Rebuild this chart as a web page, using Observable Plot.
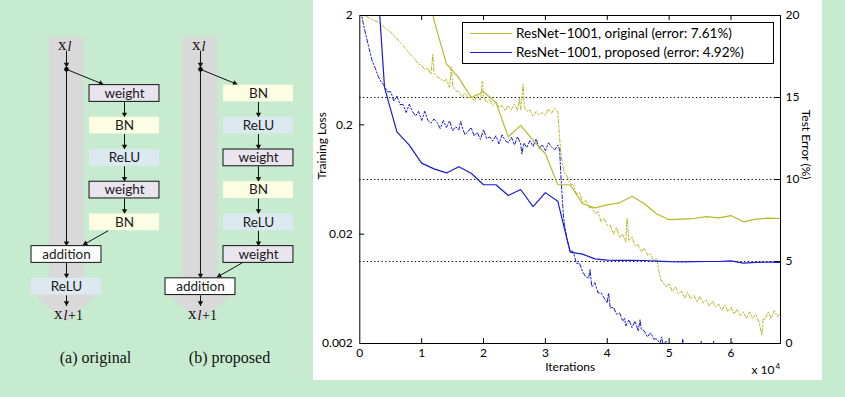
<!DOCTYPE html>
<html><head><meta charset="utf-8">
<script src="https://cdn.jsdelivr.net/npm/d3@7"></script>
<script src="https://cdn.jsdelivr.net/npm/@observablehq/plot@0.6"></script>
<style>
html,body{margin:0;padding:0;}
body{width:845px;height:397px;background:#c7ebcf;position:relative;overflow:hidden;}
#diagram{position:absolute;left:0;top:0;}
#chart{position:absolute;left:313px;top:0;}
#legend{position:absolute;left:462px;top:22px;width:312px;height:42px;box-sizing:border-box;border:1px solid #000;background:#fff;font-family:Lato,sans-serif;font-size:13.5px;color:#000;}
.row{position:absolute;left:0;height:16px;display:flex;align-items:center;white-space:nowrap;}
.sw{width:42px;margin-left:7px;margin-right:4px;height:0;border-top:1.3px solid;}
</style></head><body>
<div id="diagram"></div><div id="chart"></div><div id="legend"></div>
<script>
// ---------- diagram data ----------
const branchA = ["weight","BN","ReLU","weight","BN"];
const mainA = ["addition","ReLU"];
const branchB = ["BN","ReLU","weight","BN","ReLU","weight"];
const mainB = ["addition"];
const captions = ["(a) original","(b) proposed"];
const boxColors = {weight:"#e9e4ee", BN:"#fdfde3", ReLU:"#dce9f0", addition:"#ffffff"};
const boxed = ["weight","addition"];

// ---------- chart data ----------
const iterTicks = [0,1,2,3,4,5,6];
const lossTicks = [0.002,0.02,0.2,2];
const errorTicks = [0,5,10,15,20];
const gridErrors = [5,10,15];
const seriesNames = ["original","proposed"];
const seriesColors = ["#b8b82a","#1a1ad4"];
const finalErrors = ["7.61","4.92"];

// test error (%) vs iterations (x 1e4)
const testErrOriginal = [[1.0,24],[1.2,19.7],[1.4,17.05],[1.6,16.2],[1.8,15.0],[2.0,15.35],[2.2,14.7],[2.4,12.6],[2.6,13.3],[2.8,12.4],[3.0,11.57],[3.2,9.68],[3.4,9.68],[3.6,8.52],[3.8,8.27],[4.0,8.45],[4.2,8.58],[4.4,8.98],[4.6,8.52],[4.8,7.9],[5.0,7.55],[5.2,7.58],[5.4,7.62],[5.6,7.74],[5.8,7.66],[6.0,7.8],[6.2,7.42],[6.4,7.58],[6.6,7.64],[6.8,7.62]];
const testErrProposed = [[0.2,27],[0.4,15.6],[0.6,12.9],[0.8,12.1],[1.0,11.0],[1.2,10.65],[1.4,10.4],[1.6,10.78],[1.8,10.38],[2.0,9.68],[2.2,9.68],[2.4,9.02],[2.6,9.39],[2.8,8.35],[3.0,9.2],[3.2,8.68],[3.4,5.57],[3.6,5.45],[3.8,5.16],[4.0,5.08],[4.2,5.07],[4.4,5.07],[4.6,5.06],[4.8,5.02],[5.0,4.99],[5.2,4.98],[5.4,4.99],[5.6,5.0],[5.8,5.0],[6.0,5.04],[6.2,4.9],[6.4,4.95],[6.6,4.96],[6.8,4.95]];

// training loss vs iterations (x 1e4)
const lossOriginal = [[0.00,2.3],[0.05,2.13],[0.10,1.97],[0.15,1.9],[0.20,1.84],[0.25,1.79],[0.30,1.73],[0.35,1.64],[0.40,1.55],[0.45,1.47],[0.50,1.40],[0.55,1.31],[0.60,1.23],[0.65,1.14],[0.70,1.06],[0.75,0.98],[0.80,0.90],[0.85,0.84],[0.90,0.78],[0.95,0.72],[1.00,0.70],[1.05,0.64],[1.10,0.66],[1.15,0.58],[1.18,0.88],[1.20,0.6],[1.25,0.55],[1.30,0.53],[1.35,0.5],[1.40,0.52],[1.45,0.44],[1.48,0.68],[1.50,0.45],[1.55,0.41],[1.60,0.40],[1.65,0.36],[1.70,0.39],[1.75,0.355],[1.80,0.36],[1.85,0.33],[1.90,0.37],[1.95,0.335],[1.98,0.5],[2.00,0.36],[2.05,0.32],[2.10,0.34],[2.15,0.3],[2.20,0.325],[2.25,0.29],[2.30,0.3],[2.35,0.27],[2.40,0.3],[2.45,0.275],[2.50,0.31],[2.55,0.27],[2.58,0.35],[2.60,0.275],[2.64,0.47],[2.66,0.29],[2.70,0.265],[2.75,0.275],[2.80,0.24],[2.85,0.265],[2.90,0.245],[2.95,0.26],[3.00,0.245],[3.05,0.28],[3.10,0.255],[3.15,0.285],[3.20,0.26],[3.22,0.18],[3.25,0.11],[3.28,0.085],[3.30,0.074],[3.35,0.068],[3.40,0.058],[3.45,0.056],[3.50,0.047],[3.55,0.048],[3.60,0.039],[3.65,0.041],[3.70,0.035],[3.75,0.035],[3.80,0.031],[3.85,0.032],[3.90,0.026],[3.95,0.028],[4.00,0.024],[4.05,0.024],[4.10,0.02],[4.15,0.023],[4.20,0.0185],[4.25,0.02],[4.30,0.017],[4.32,0.028],[4.35,0.0175],[4.40,0.019],[4.45,0.0155],[4.50,0.016],[4.55,0.0138],[4.60,0.015],[4.65,0.0128],[4.70,0.0132],[4.75,0.0115],[4.80,0.012],[4.83,0.0095],[4.86,0.0078],[4.90,0.0072],[4.95,0.0066],[5.00,0.0071],[5.05,0.006],[5.10,0.0066],[5.15,0.0057],[5.20,0.006],[5.25,0.0052],[5.30,0.0059],[5.35,0.0051],[5.40,0.0055],[5.45,0.0048],[5.50,0.0054],[5.55,0.0047],[5.60,0.005],[5.65,0.0044],[5.70,0.0049],[5.75,0.0043],[5.80,0.0046],[5.85,0.004],[5.90,0.0045],[5.95,0.0039],[6.00,0.0043],[6.05,0.0037],[6.10,0.0041],[6.15,0.0036],[6.20,0.0039],[6.25,0.0034],[6.30,0.0039],[6.35,0.0034],[6.40,0.0037],[6.45,0.0032],[6.50,0.0024],[6.52,0.0034],[6.55,0.0033],[6.60,0.0039],[6.65,0.0034],[6.70,0.004],[6.75,0.0035],[6.80,0.0038]];
const lossProposed = [[0.02,2.2],[0.05,1.75],[0.10,1.31],[0.15,1.0],[0.20,0.77],[0.25,0.66],[0.30,0.55],[0.35,0.49],[0.40,0.45],[0.45,0.40],[0.50,0.402],[0.55,0.330],[0.60,0.367],[0.65,0.307],[0.70,0.306],[0.75,0.259],[0.80,0.309],[0.85,0.265],[0.90,0.241],[0.95,0.266],[1.00,0.219],[1.05,0.266],[1.10,0.220],[1.15,0.207],[1.20,0.226],[1.25,0.21],[1.30,0.185],[1.35,0.219],[1.40,0.189],[1.45,0.218],[1.50,0.176],[1.55,0.193],[1.60,0.179],[1.63,0.215],[1.65,0.194],[1.70,0.162],[1.75,0.174],[1.80,0.189],[1.85,0.158],[1.90,0.170],[1.95,0.147],[2.00,0.181],[2.05,0.150],[2.10,0.155],[2.15,0.142],[2.20,0.159],[2.25,0.134],[2.30,0.162],[2.35,0.144],[2.40,0.137],[2.45,0.154],[2.50,0.131],[2.55,0.156],[2.60,0.134],[2.62,0.108],[2.65,0.1365],[2.70,0.124],[2.75,0.143],[2.80,0.127],[2.85,0.149],[2.90,0.121],[2.95,0.132],[3.00,0.116],[3.05,0.137],[3.10,0.125],[3.15,0.118],[3.20,0.131],[3.23,0.118],[3.25,0.069],[3.27,0.045],[3.29,0.03],[3.31,0.024],[3.35,0.018],[3.40,0.0142],[3.45,0.0138],[3.50,0.0108],[3.55,0.0109],[3.60,0.0091],[3.65,0.0082],[3.70,0.0079],[3.72,0.0095],[3.75,0.0066],[3.80,0.0072],[3.85,0.0058],[3.90,0.0058],[3.95,0.0052],[4.00,0.0047],[4.02,0.0058],[4.05,0.0042],[4.10,0.0043],[4.15,0.0037],[4.20,0.0038],[4.25,0.0032],[4.28,0.0034],[4.30,0.0029],[4.35,0.0033],[4.40,0.0028],[4.45,0.0032],[4.50,0.0026],[4.53,0.0033],[4.55,0.0027],[4.60,0.0026],[4.65,0.0023],[4.70,0.0025],[4.75,0.0022],[4.80,0.0022],[4.85,0.002],[4.88,0.0023],[4.90,0.0019],[4.95,0.0021],[5.00,0.0019],[5.05,0.0018],[5.20,0.00175],[5.22,0.0022],[5.25,0.00175],[5.50,0.0017],[5.52,0.0021],[5.55,0.0017],[5.70,0.0017],[5.72,0.0021],[5.75,0.0017],[6.00,0.0017],[6.02,0.00205],[6.05,0.0017],[6.80,0.0017]];

// ---------- diagram ----------
const UX = 58, UY = 32.2; // px per layout unit (column, row)
const units = [{branch: branchA, main: mainA, caption: captions[0]}, {branch: branchB, main: mainB, caption: captions[1]}];
const colGap = 2.31;
const boxes = [], arrows = [], bands = [], heads = [], dots = [], inLabels = [], outLabels = [], caps = [];
units.forEach((u, k) => {
  const c = k * colGap;
  const n = u.branch.length;
  u.branch.forEach((t, i) => boxes.push({t, x: c + 1, r: i + 1}));
  u.main.forEach((t, j) => boxes.push({t, x: c, r: n + 1 + j}));
  const last = n + u.main.length;
  bands.push({x1: c - 0.3, x2: c + 0.3, y1: -0.74, y2: last + 0.18});
  heads.push({g: k, x: c - 0.59, y1: last + 0.18, y2: last + 0.18},
             {g: k, x: c, y1: last + 0.18, y2: last + 1.11},
             {g: k, x: c + 0.59, y1: last + 0.18, y2: last + 0.18});
  arrows.push({x1: c, y1: -0.33, x2: c, y2: 0.19});
  arrows.push({x1: c, y1: 0.25, x2: c + 0.64, y2: 0.72});
  for (let i = 1; i < n; i++) arrows.push({x1: c + 1, y1: i + 0.26, x2: c + 1, y2: i + 0.74});
  arrows.push({x1: c, y1: 0.25, x2: c, y2: n + 1 - 0.26});
  arrows.push({x1: c + 0.72, y1: n + 0.26, x2: c + 0.28, y2: n + 1 - 0.29});
  for (let j = 0; j < u.main.length - 1; j++) arrows.push({x1: c, y1: n + 1 + j + 0.26, x2: c, y2: n + 2 + j - 0.26});
  arrows.push({x1: c, y1: last + 0.27, x2: c, y2: last + 0.6});
  dots.push({x: c, r: 0.25});
  inLabels.push({x: c, r: -0.51});
  outLabels.push({x: c, r: last + 0.84});
  caps.push({x: c + 0.5, r: 9.2, t: u.caption});
});
const tipBack = 3.1;
const arrowTips = arrows.map(a => {
  const ang = Math.atan2((a.y2 - a.y1) * UY, (a.x2 - a.x1) * UX);
  return {x: a.x2 - Math.cos(ang) * tipBack / UX, y: a.y2 - Math.sin(ang) * tipBack / UY, rot: ang * 180 / Math.PI + 90};
});

const diagram = Plot.plot({
  width: 310, height: 397, margin: 0,
  style: {background: "transparent", overflow: "visible"},
  x: {domain: [-66 / UX, (310 - 66) / UX], range: [0, 310], axis: null},
  y: {domain: [-60.8 / UY, (397 - 60.8) / UY], range: [0, 397], axis: null},
  color: {type: "identity"},
  marks: [
    Plot.rect(bands, {x1: "x1", x2: "x2", y1: "y1", y2: "y2", fill: "#d9d9d9"}),
    Plot.areaY(heads, {x: "x", y1: "y1", y2: "y2", z: "g", fill: "#d9d9d9", curve: "linear"}),
    Plot.link(arrows, {x1: "x1", y1: "y1", x2: "x2", y2: "y2", stroke: "#111", strokeWidth: 1}),
    Plot.dot(arrowTips, {x: "x", y: "y", symbol: "triangle", r: 2, rotate: "rot", fill: "#111", stroke: "none"}),
    Plot.rect(boxes, {x1: d => d.x - 0.603, x2: d => d.x + 0.603, y1: d => d.r - 0.26, y2: d => d.r + 0.26,
      fill: d => boxColors[d.t], stroke: d => boxed.includes(d.t) ? "#111" : "none", strokeWidth: 1}),
    Plot.text(boxes, {x: "x", y: "r", text: "t", fontSize: 13.5, fontFamily: "Lato", fill: "#1a1a1a"}),
    Plot.dot(dots, {x: "x", y: "r", r: 2.3, fill: "#000", stroke: "none"}),
    Plot.text(inLabels, {x: "x", y: "r", text: () => "x", textAnchor: "end", dx: 0, fontFamily: "Liberation Serif", fontSize: 17, fill: "#111"}),
    Plot.text(inLabels, {x: "x", y: "r", text: () => "l", textAnchor: "start", dx: 1, dy: 2, fontFamily: "Liberation Serif", fontStyle: "italic", fontSize: 14, fill: "#111"}),
    Plot.text(outLabels, {x: "x", y: "r", text: () => "x", textAnchor: "end", dx: -4, fontFamily: "Liberation Serif", fontSize: 17, fill: "#111"}),
    Plot.text(outLabels, {x: "x", y: "r", text: () => "l", textAnchor: "start", dx: -3, dy: 2, fontFamily: "Liberation Serif", fontStyle: "italic", fontSize: 14, fill: "#111"}),
    Plot.text(outLabels, {x: "x", y: "r", text: () => "+1", textAnchor: "start", dx: 1.5, dy: 2, fontFamily: "Liberation Serif", fontSize: 14, fill: "#111"}),
    Plot.text(caps, {x: "x", y: "r", text: "t", fontFamily: "Liberation Serif", fontSize: 16, fill: "#111"})
  ]
});
document.getElementById("diagram").appendChild(diagram);

// ---------- chart ----------
const yFromLoss = L => (20 / 3) * Math.log10(L / 0.002);
const lossLabel = d => { const t = lossTicks.find(v => Math.abs(yFromLoss(v) - d) < 1e-6); return t === undefined ? "" : String(t); };
const chart = Plot.plot({
  width: 509, height: 380, marginLeft: 46.3, marginRight: 42, marginTop: 15, marginBottom: 37,
  style: {background: "#fff", fontFamily: "Lato, sans-serif", fontSize: "12px", color: "#000", overflow: "visible"},
  x: {domain: [0, 6.8]},
  y: {domain: [0, 20]},
  marks: [
    Plot.ruleY(gridErrors, {stroke: "#000", strokeDasharray: "1.3,2.4", strokeWidth: 1}),
    Plot.line(lossOriginal, {x: d => d[0], y: d => yFromLoss(d[1]), stroke: seriesColors[0], strokeWidth: 1, strokeDasharray: "4,2,1.5,2", clip: true}),
    Plot.line(lossProposed, {x: d => d[0], y: d => yFromLoss(d[1]), stroke: seriesColors[1], strokeWidth: 1, strokeDasharray: "4,2,1.5,2", clip: true}),
    Plot.line(testErrOriginal, {x: d => d[0], y: d => d[1], stroke: seriesColors[0], strokeWidth: 1.2, clip: true}),
    Plot.line(testErrProposed, {x: d => d[0], y: d => d[1], stroke: seriesColors[1], strokeWidth: 1.2, clip: true}),
    Plot.frame({stroke: "#000"}),
    Plot.ruleX(iterTicks.slice(1), {x: d => d, y1: 0, y2: 0.3, stroke: "#000"}),
    Plot.ruleX(iterTicks.slice(1), {x: d => d, y1: 20, y2: 19.7, stroke: "#000"}),
    Plot.ruleY(lossTicks.slice(1, -1).map(yFromLoss), {y: d => d, x1: 0, x2: 0.08, stroke: "#000"}),
    Plot.ruleY(gridErrors, {y: d => d, x1: 6.72, x2: 6.8, stroke: "#000"}),
    Plot.axisX(iterTicks, {anchor: "bottom", tickSize: 0, tickPadding: 5, label: null}),
    Plot.axisY(lossTicks.map(yFromLoss), {anchor: "left", tickSize: 0, tickPadding: 7, tickFormat: lossLabel, label: null}),
    Plot.axisY(errorTicks, {anchor: "right", tickSize: 0, tickPadding: 5, label: null}),
    Plot.text(["Iterations"], {frameAnchor: "bottom", dy: 27}),
    Plot.text(["x 10"], {frameAnchor: "bottom-right", textAnchor: "end", dx: -6, dy: 30}),
    Plot.text(["4"], {frameAnchor: "bottom-right", textAnchor: "start", dx: -5, dy: 25, fontSize: 8}),
    Plot.text(["Training Loss"], {frameAnchor: "left", rotate: -90, dx: -37.5}),
    Plot.text(["Test Error (%)"], {frameAnchor: "right", rotate: 90, dx: 25})
  ]
});
document.getElementById("chart").appendChild(chart);

// ---------- legend ----------
const legend = document.getElementById("legend");
seriesNames.forEach((name, i) => {
  const row = document.createElement("div");
  row.className = "row";
  row.style.top = (i === 0 ? 2.3 : 21.3) + "px";
  const sw = document.createElement("span");
  sw.className = "sw";
  sw.style.borderTopColor = seriesColors[i];
  const tx = document.createElement("span");
  tx.textContent = `ResNet\u22121001, ${name} (error: ${finalErrors[i]}%)`;
  row.appendChild(sw); row.appendChild(tx);
  legend.appendChild(row);
});
</script></body></html>
